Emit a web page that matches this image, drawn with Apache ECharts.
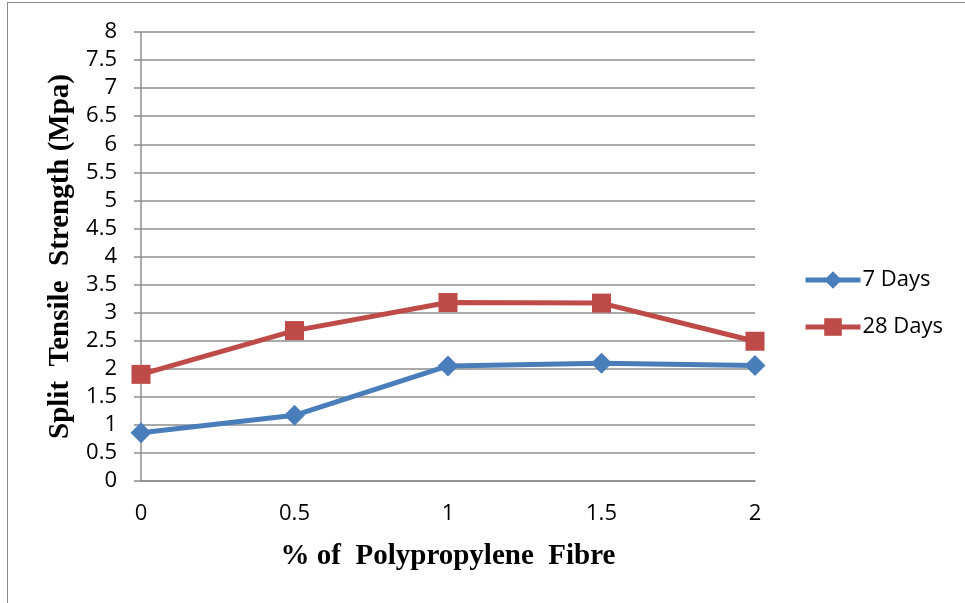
<!DOCTYPE html>
<html>
<head>
<meta charset="utf-8">
<script src="https://cdn.jsdelivr.net/npm/echarts@6/dist/echarts.min.js"></script>
<style>
  html, body { margin: 0; padding: 0; background: #fff; }
  .frame { position: absolute; left: 7px; top: 2px; width: 970px; height: 620px;
           border-left: 1px solid #8a8a8a; border-top: 1px solid #8a8a8a; }
  .chart { position: absolute; left: 0; top: 0; width: 965px; height: 603px; }
</style>
</head>
<body>
<div class="frame"></div>
<div class="chart"></div>
<script>
  // 数据
  var fibre = ['0', '0.5', '1', '1.5', '2'];
  var days7 = [0.86, 1.17, 2.05, 2.1, 2.06];
  var days28 = [1.9, 2.68, 3.18, 3.17, 2.49];

  var myChart = echarts.init(document.querySelector(".chart"));
  var option = {
    animation: false,
    grid: { left: 141, right: 210, top: 32, bottom: 122 },
    legend: {
      orient: 'vertical',
      left: 803,
      top: 269,
      padding: 0,
      itemWidth: 55,
      itemHeight: 22,
      itemGap: 25,
      lineStyle: { width: 5 },
      textStyle: { fontFamily: 'Open Sans', fontSize: 22, color: '#000', padding: [0, 0, 0, -3] },
      data: ['7 Days', '28 Days']
    },
    xAxis: {
      type: 'category',
      boundaryGap: false,
      data: fibre,
      name: '% of  Polypropylene  Fibre',
      nameLocation: 'middle',
      nameGap: 61,
      nameTextStyle: { fontFamily: 'Liberation Serif', fontWeight: 'bold', fontSize: 29, color: '#000' },
      axisLine: { lineStyle: { color: '#8c8c8c', width: 1.5 } },
      axisTick: { show: false },
      axisLabel: { fontFamily: 'Open Sans', fontSize: 22, color: '#000', margin: 22 },
      splitLine: { show: false }
    },
    yAxis: {
      type: 'value',
      min: 0,
      max: 8,
      interval: 0.5,
      name: 'Split  Tensile  Strength (Mpa)',
      nameLocation: 'middle',
      nameGap: 63,
      nameTextStyle: { fontFamily: 'Liberation Serif', fontWeight: 'bold', fontSize: 29, color: '#000' },
      axisLine: { show: true, lineStyle: { color: '#8c8c8c', width: 1.5 } },
      axisTick: { show: true, length: 7, lineStyle: { color: '#8c8c8c', width: 1.5 } },
      axisLabel: { fontFamily: 'Open Sans', fontSize: 22, color: '#000', margin: 24 },
      splitLine: { lineStyle: { color: '#8c8c8c', width: 1.5 } }
    },
    series: [
      {
        name: '7 Days',
        type: 'line',
        data: days7,
        symbol: 'diamond',
        symbolSize: 21,
        color: '#4a7ebb',
        lineStyle: { width: 5, color: '#4a7ebb' },
        itemStyle: { color: '#4a7ebb' }
      },
      {
        name: '28 Days',
        type: 'line',
        data: days28,
        symbol: 'rect',
        symbolSize: 19,
        color: '#be4b48',
        lineStyle: { width: 5, color: '#be4b48' },
        itemStyle: { color: '#be4b48' }
      }
    ]
  };
  myChart.setOption(option);
</script>
</body>
</html>
